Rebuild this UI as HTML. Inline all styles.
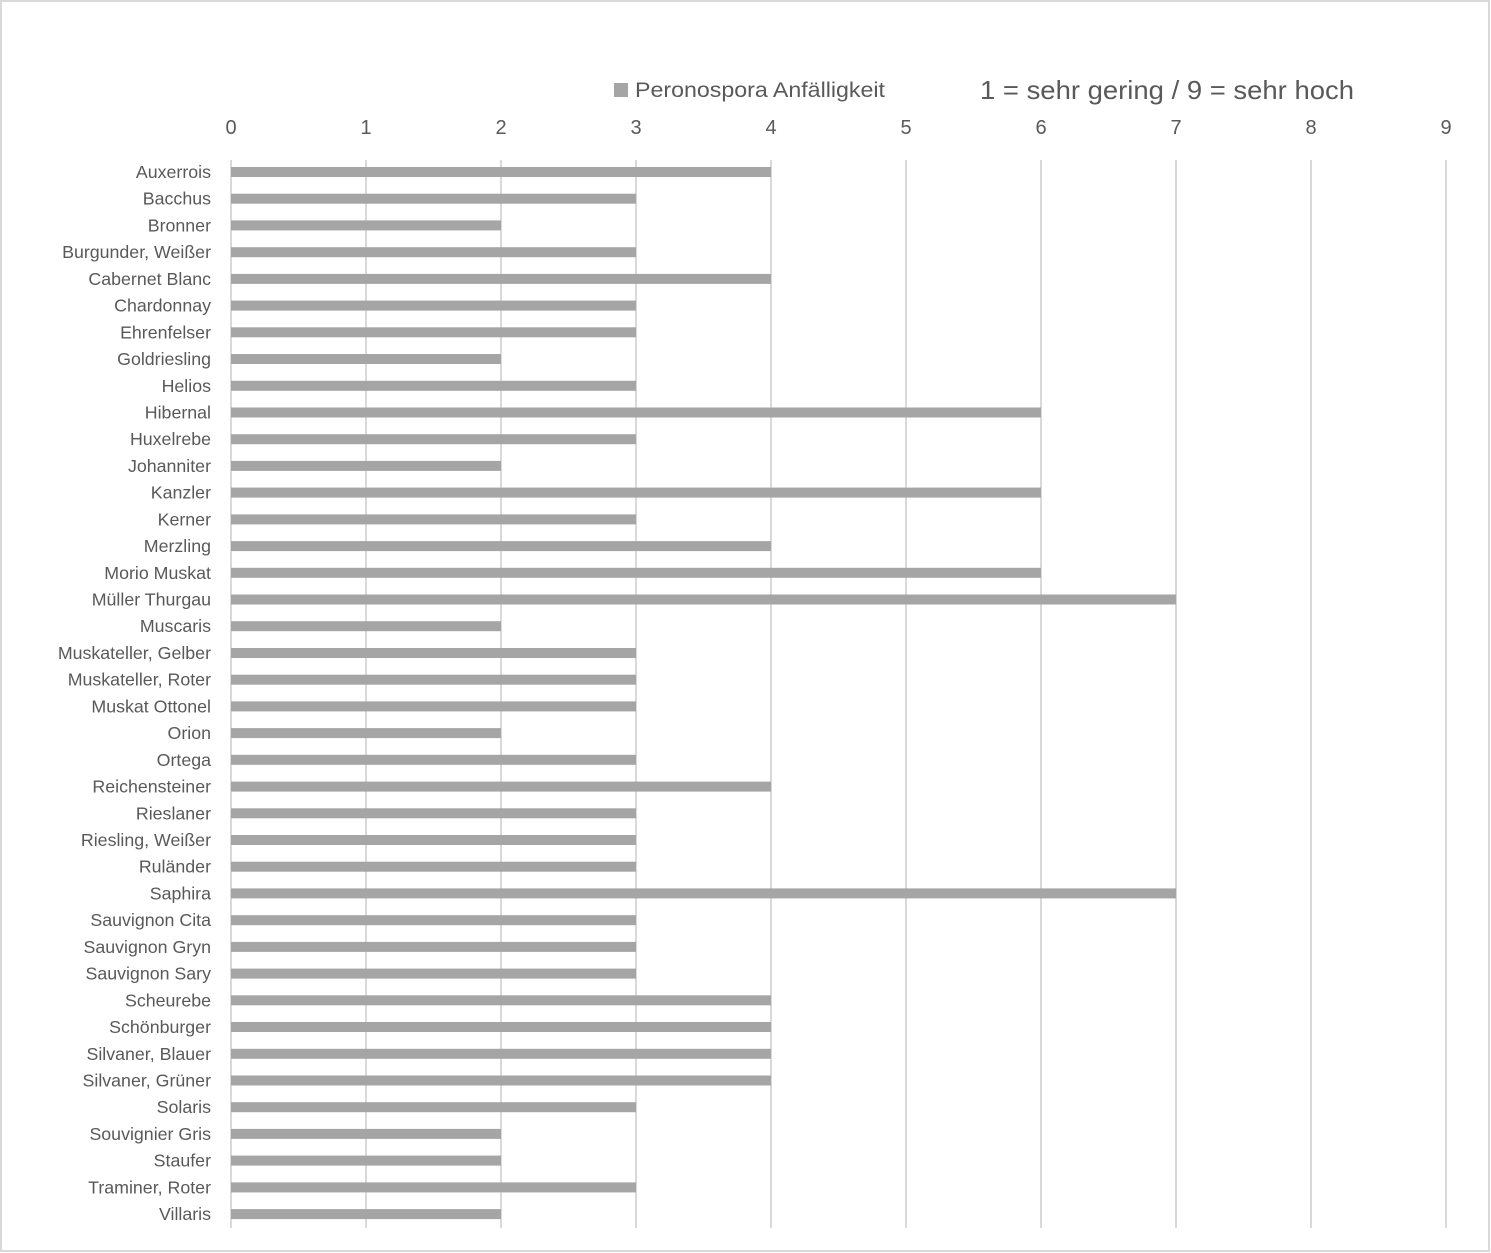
<!DOCTYPE html>
<html><head><meta charset="utf-8"><style>
html,body{margin:0;padding:0;background:#fff;}
svg{display:block;}
text{font-family:"Liberation Sans",sans-serif;fill:#595959;}
</style></head><body>
<svg width="1491" height="1253" viewBox="0 0 1491 1253" xmlns="http://www.w3.org/2000/svg">
<rect x="1" y="1" width="1488" height="1250" fill="#fff" stroke="#d9d9d9" stroke-width="2"/>
<g stroke="#d9d9d9" stroke-width="2">
<line x1="231" y1="160" x2="231" y2="1228"/>
<line x1="366" y1="160" x2="366" y2="1228"/>
<line x1="501" y1="160" x2="501" y2="1228"/>
<line x1="636" y1="160" x2="636" y2="1228"/>
<line x1="771" y1="160" x2="771" y2="1228"/>
<line x1="906" y1="160" x2="906" y2="1228"/>
<line x1="1041" y1="160" x2="1041" y2="1228"/>
<line x1="1176" y1="160" x2="1176" y2="1228"/>
<line x1="1311" y1="160" x2="1311" y2="1228"/>
<line x1="1446" y1="160" x2="1446" y2="1228"/>
</g>
<g font-size="20" text-anchor="middle">
<text x="231" y="134">0</text><text x="366" y="134">1</text><text x="501" y="134">2</text><text x="636" y="134">3</text><text x="771" y="134">4</text><text x="906" y="134">5</text><text x="1041" y="134">6</text><text x="1176" y="134">7</text><text x="1311" y="134">8</text><text x="1446" y="134">9</text>
</g>
<rect x="614" y="83" width="14" height="14" fill="#a5a5a5"/>
<text x="635" y="97" font-size="21" textLength="250" lengthAdjust="spacingAndGlyphs">Peronospora Anfälligkeit</text>
<text x="980" y="99" font-size="26" textLength="374" lengthAdjust="spacingAndGlyphs">1 = sehr gering  / 9 = sehr hoch</text>
<g fill="#a5a5a5">
<rect x="231" y="167.0" width="540" height="10"/>
<rect x="231" y="193.7" width="405" height="10"/>
<rect x="231" y="220.4" width="270" height="10"/>
<rect x="231" y="247.2" width="405" height="10"/>
<rect x="231" y="273.9" width="540" height="10"/>
<rect x="231" y="300.6" width="405" height="10"/>
<rect x="231" y="327.3" width="405" height="10"/>
<rect x="231" y="354.0" width="270" height="10"/>
<rect x="231" y="380.8" width="405" height="10"/>
<rect x="231" y="407.5" width="810" height="10"/>
<rect x="231" y="434.2" width="405" height="10"/>
<rect x="231" y="460.9" width="270" height="10"/>
<rect x="231" y="487.6" width="810" height="10"/>
<rect x="231" y="514.4" width="405" height="10"/>
<rect x="231" y="541.1" width="540" height="10"/>
<rect x="231" y="567.8" width="810" height="10"/>
<rect x="231" y="594.5" width="945" height="10"/>
<rect x="231" y="621.2" width="270" height="10"/>
<rect x="231" y="648.0" width="405" height="10"/>
<rect x="231" y="674.7" width="405" height="10"/>
<rect x="231" y="701.4" width="405" height="10"/>
<rect x="231" y="728.1" width="270" height="10"/>
<rect x="231" y="754.8" width="405" height="10"/>
<rect x="231" y="781.6" width="540" height="10"/>
<rect x="231" y="808.3" width="405" height="10"/>
<rect x="231" y="835.0" width="405" height="10"/>
<rect x="231" y="861.7" width="405" height="10"/>
<rect x="231" y="888.4" width="945" height="10"/>
<rect x="231" y="915.2" width="405" height="10"/>
<rect x="231" y="941.9" width="405" height="10"/>
<rect x="231" y="968.6" width="405" height="10"/>
<rect x="231" y="995.3" width="540" height="10"/>
<rect x="231" y="1022.0" width="540" height="10"/>
<rect x="231" y="1048.8" width="540" height="10"/>
<rect x="231" y="1075.5" width="540" height="10"/>
<rect x="231" y="1102.2" width="405" height="10"/>
<rect x="231" y="1128.9" width="270" height="10"/>
<rect x="231" y="1155.6" width="270" height="10"/>
<rect x="231" y="1182.4" width="405" height="10"/>
<rect x="231" y="1209.1" width="270" height="10"/>
</g>
<g font-size="17.8" text-anchor="end">
<text x="211" y="178.0">Auxerrois</text>
<text x="211" y="204.7">Bacchus</text>
<text x="211" y="231.4">Bronner</text>
<text x="211" y="258.2">Burgunder, Weißer</text>
<text x="211" y="284.9">Cabernet Blanc</text>
<text x="211" y="311.6">Chardonnay</text>
<text x="211" y="338.3">Ehrenfelser</text>
<text x="211" y="365.0">Goldriesling</text>
<text x="211" y="391.8">Helios</text>
<text x="211" y="418.5">Hibernal</text>
<text x="211" y="445.2">Huxelrebe</text>
<text x="211" y="471.9">Johanniter</text>
<text x="211" y="498.6">Kanzler</text>
<text x="211" y="525.4">Kerner</text>
<text x="211" y="552.1">Merzling</text>
<text x="211" y="578.8">Morio Muskat</text>
<text x="211" y="605.5">Müller Thurgau</text>
<text x="211" y="632.2">Muscaris</text>
<text x="211" y="659.0">Muskateller, Gelber</text>
<text x="211" y="685.7">Muskateller, Roter</text>
<text x="211" y="712.4">Muskat Ottonel</text>
<text x="211" y="739.1">Orion</text>
<text x="211" y="765.8">Ortega</text>
<text x="211" y="792.6">Reichensteiner</text>
<text x="211" y="819.3">Rieslaner</text>
<text x="211" y="846.0">Riesling, Weißer</text>
<text x="211" y="872.7">Ruländer</text>
<text x="211" y="899.4">Saphira</text>
<text x="211" y="926.2">Sauvignon Cita</text>
<text x="211" y="952.9">Sauvignon Gryn</text>
<text x="211" y="979.6">Sauvignon Sary</text>
<text x="211" y="1006.3">Scheurebe</text>
<text x="211" y="1033.0">Schönburger</text>
<text x="211" y="1059.8">Silvaner, Blauer</text>
<text x="211" y="1086.5">Silvaner, Grüner</text>
<text x="211" y="1113.2">Solaris</text>
<text x="211" y="1139.9">Souvignier Gris</text>
<text x="211" y="1166.6">Staufer</text>
<text x="211" y="1193.4">Traminer, Roter</text>
<text x="211" y="1220.1">Villaris</text>
</g>
</svg>
</body></html>
